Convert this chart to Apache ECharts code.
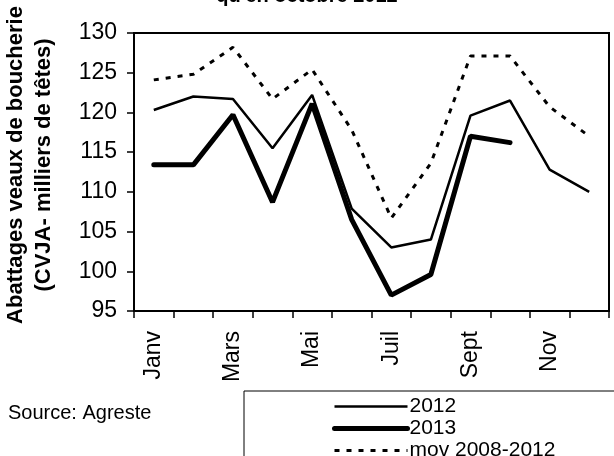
<!DOCTYPE html>
<html>
<head>
<meta charset="utf-8">
<script src="https://cdn.jsdelivr.net/npm/echarts@6/dist/echarts.min.js"></script>
<style>
  html, body { margin: 0; padding: 0; background: #fff; }
  #main { width: 614px; height: 456px; }
</style>
</head>
<body>
<div id="main"></div>
<script>
// mois
var months = ['Janv', 'Févr', 'Mars', 'Avr', 'Mai', 'Juin', 'Juil', 'Août', 'Sept', 'Oct', 'Nov', 'Déc'];
// abattages (milliers de têtes)
var data2012 = [120.3, 122.0, 121.7, 115.5, 122.2, 107.9, 103.0, 104.0, 119.6, 121.5, 112.8, 110.0];
var data2013 = [113.4, 113.4, 119.7, 108.7, 121.1, 106.5, 97.0, 99.6, 117.0, 116.2];
var dataMoy = [124.1, 124.8, 128.2, 121.7, 125.4, 117.8, 106.7, 113.6, 127.1, 127.1, 120.7, 117.0];
var seriesNames = ['2012', '2013', 'mov 2008-2012'];

var font = '"Liberation Sans", Arial, sans-serif';
var chart = echarts.init(document.getElementById('main'));

var option = {
  animation: false,
  backgroundColor: '#fff',
  textStyle: { fontFamily: font, color: '#000' },
  title: {
    text: "qu'en octobre 2012",
    left: 'center',
    top: -14,
    padding: 0,
    textStyle: { fontFamily: font, fontSize: 20, fontWeight: 'bold', color: '#000' }
  },
  grid: {
    left: 134, right: 5, top: 33, bottom: 145,
    show: true, borderColor: '#000', borderWidth: 2
  },
  legend: {
    data: [
      { name: seriesNames[0], lineStyle: { width: 2.5 } },
      { name: seriesNames[1], lineStyle: { width: 5 } },
      { name: seriesNames[2], lineStyle: { width: 3 } }
    ],
    orient: 'vertical',
    left: 332,
    top: 396,
    height: 90,
    padding: 0,
    itemWidth: 73,
    itemHeight: 20,
    itemGap: 1,
    itemStyle: { opacity: 0 },
    textStyle: { fontFamily: font, fontSize: 21, color: '#000', padding: [0, 0, 0, -3] }
  },
  graphic: [
    {
      type: 'rect',
      shape: { x: 244, y: 391, width: 420, height: 120 },
      style: { fill: 'none', stroke: '#000', lineWidth: 1 },
      z: -1
    },
    {
      type: 'text',
      x: 8, y: 413,
      style: { text: 'Source: Agreste', font: '20px ' + font, fill: '#000', textVerticalAlign: 'middle' }
    },
    {
      type: 'text',
      x: 30, y: 165,
      rotation: Math.PI / 2,
      style: {
        text: 'Abattages veaux de boucherie\n(CVJA- milliers de têtes)',
        font: 'bold 22px ' + font,
        fill: '#000',
        textAlign: 'center',
        textVerticalAlign: 'middle',
        lineHeight: 28
      }
    }
  ],
  xAxis: {
    type: 'category',
    data: months,
    boundaryGap: true,
    axisLine: { lineStyle: { color: '#000', width: 2 } },
    axisTick: { show: true, interval: 0, length: 7, lineStyle: { color: '#000', width: 1.5 } },
    axisLabel: { interval: 1, rotate: 90, margin: 20, fontSize: 23, fontFamily: font, color: '#000' },
    splitLine: { show: false }
  },
  yAxis: {
    type: 'value',
    min: 95,
    max: 130,
    interval: 5,
    axisLine: { show: true, lineStyle: { color: '#000', width: 2 } },
    axisTick: { show: true, length: 7, lineStyle: { color: '#000', width: 1.5 } },
    axisLabel: { margin: 17, fontSize: 23, fontFamily: font, color: '#000' },
    splitLine: { show: false }
  },
  series: [
    {
      name: seriesNames[0],
      type: 'line',
      data: data2012,
      symbol: 'none',
      lineStyle: { color: '#000', width: 2.5 },
      itemStyle: { color: '#000' }
    },
    {
      name: seriesNames[1],
      type: 'line',
      data: data2013,
      symbol: 'none',
      lineStyle: { color: '#000', width: 5, cap: 'round' },
      itemStyle: { color: '#000' }
    },
    {
      name: seriesNames[2],
      type: 'line',
      data: dataMoy,
      symbol: 'none',
      lineStyle: { color: '#000', width: 3, type: [5, 7] },
      itemStyle: { color: '#000' }
    }
  ]
};

chart.setOption(option);
</script>
</body>
</html>
